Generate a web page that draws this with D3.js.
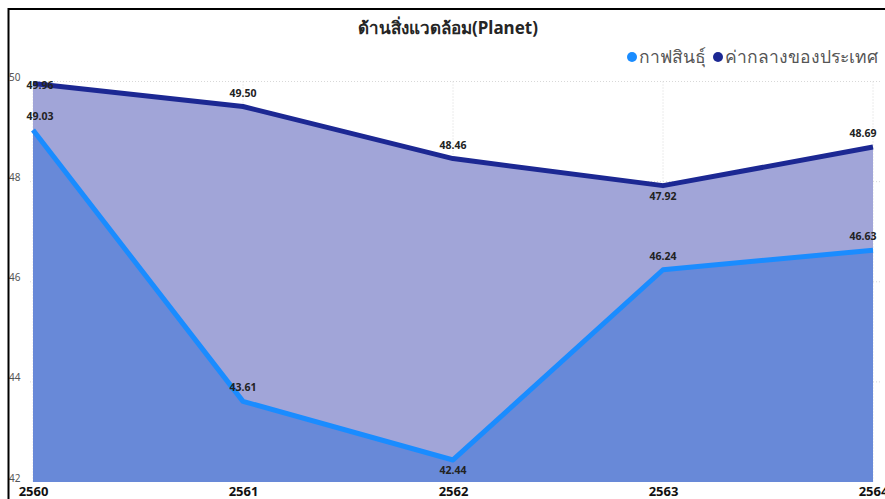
<!DOCTYPE html>
<html>
<head>
<meta charset="utf-8">
<script src="https://d3js.org/d3.v7.min.js"></script>
<style>
  html, body { margin: 0; padding: 0; background: #fff; }
  svg { display: block; font-family: "Segoe UI", "Noto Sans", "DejaVu Sans", sans-serif; }
</style>
</head>
<body>
<svg id="chart" width="885" height="499"></svg>
<script>
// data
const years = ['2560', '2561', '2562', '2563', '2564']
const kalasin = [49.03, 43.61, 42.44, 46.24, 46.63]
const national = [49.96, 49.50, 48.46, 47.92, 48.69]
const yTicks = [42, 44, 46, 48, 50]
const seriesNames = ['กาฟสินธุ์', 'ค่ากลางของประเทศ']
const title = 'ด้านสิ่งแวดล้อม(Planet)'

const W = 885, H = 499
const colLine = ['#1a8cff', '#1c2893']
const colArea = ['#6889d8', '#a1a5d8']

const svg = d3.select('#chart')

const x = d3.scalePoint().domain(years).range([33, 873])
const y = d3.scaleLinear().domain([42, 50]).range([482, 81.5])

// frame
svg.append('line').attr('x1', 8).attr('x2', W).attr('y1', 9).attr('y2', 9)
  .attr('stroke', '#000').attr('stroke-width', 2)

// grid
const grid = svg.append('g')
grid.selectAll('.hg').data(yTicks.filter(d => d > 42)).enter().append('line')
  .attr('x1', 30).attr('x2', 880)
  .attr('y1', d => y(d)).attr('y2', d => y(d))
  .attr('stroke', '#d8d8d8').attr('stroke-dasharray', '1,2')
grid.selectAll('.vg').data(years).enter().append('line')
  .attr('x1', d => x(d)).attr('x2', d => x(d))
  .attr('y1', y(50)).attr('y2', y(42))
  .attr('stroke', '#d8d8d8').attr('stroke-dasharray', '1,2')

// areas
const area = vals => d3.area()
  .x((d, i) => x(years[i]))
  .y0(y(42))
  .y1(d => y(d))(vals)
svg.append('path').attr('d', area(national)).attr('fill', colArea[1])
svg.append('path').attr('d', area(kalasin)).attr('fill', colArea[0])

// lines
const line = vals => d3.line()
  .x((d, i) => x(years[i]))
  .y(d => y(d))(vals)
svg.append('path').attr('d', line(national)).attr('fill', 'none')
  .attr('stroke', colLine[1]).attr('stroke-width', 5).attr('stroke-linejoin', 'round')
svg.append('path').attr('d', line(kalasin)).attr('fill', 'none')
  .attr('stroke', colLine[0]).attr('stroke-width', 5).attr('stroke-linejoin', 'round')

// y axis
const yAxis = svg.append('g').attr('transform', 'translate(8,0)')
  .call(d3.axisRight(y).tickValues(yTicks).tickSize(0).tickPadding(1).tickFormat(d3.format('d')))
yAxis.select('.domain').remove()
yAxis.selectAll('text').attr('font-size', 10).attr('fill', '#555').attr('dy', '-0.1em')
  .attr('font-family', '"Segoe UI", "Noto Sans", sans-serif')
svg.append('line').attr('x1', 8.5).attr('x2', 8.5).attr('y1', 8).attr('y2', H)
  .attr('stroke', '#000').attr('stroke-width', 2)

// x axis
const xAxis = svg.append('g').attr('transform', 'translate(0,' + y(42) + ')')
  .call(d3.axisBottom(x).tickSize(0).tickPadding(5))
xAxis.select('.domain').remove()
xAxis.selectAll('text').attr('font-size', 13).attr('font-weight', 'bold').attr('fill', '#111')
  .attr('font-family', '"Segoe UI", "Noto Sans", sans-serif')

// data labels
function labels(vals) {
  const g = svg.append('g')
  vals.forEach((v, i) => {
    const px = x(years[i]), py = y(v)
    const prev = vals[i - 1], next = vals[i + 1]
    const isMin = (prev === undefined || v < prev) && (next === undefined || v < next) && i > 0
    let ly = isMin ? py + 14 : py - 10
    if (py - 10 < y(50)) ly = py + 5
    const lx = Math.max(40, Math.min(px, 863))
    g.append('text').attr('x', lx).attr('y', ly)
      .attr('text-anchor', 'middle').attr('font-size', 10.5).attr('font-weight', 'bold')
      .attr('fill', '#222').text(d3.format('.2f')(v))
  })
}
labels(national)
labels(kalasin)

// title
svg.append('text').attr('x', 448).attr('y', 34).attr('text-anchor', 'middle')
  .attr('font-size', 17).attr('font-weight', 'bold').attr('fill', '#252525').text(title)

// legend
const leg = svg.append('g')
const legText2 = leg.append('text').attr('x', 878).attr('y', 63).attr('text-anchor', 'end')
  .attr('font-size', 17.5).attr('fill', '#555').text(seriesNames[1])
const w2 = legText2.node().getComputedTextLength()
leg.append('circle').attr('cx', 878 - w2 - 7).attr('cy', 57).attr('r', 5).attr('fill', colLine[1])
const legText1 = leg.append('text').attr('x', 878 - w2 - 19).attr('y', 63).attr('text-anchor', 'end')
  .attr('font-size', 17.5).attr('fill', '#555').text(seriesNames[0])
const w1 = legText1.node().getComputedTextLength()
leg.append('circle').attr('cx', 878 - w2 - 19 - w1 - 7).attr('cy', 57).attr('r', 5).attr('fill', colLine[0])
</script>
</body>
</html>
